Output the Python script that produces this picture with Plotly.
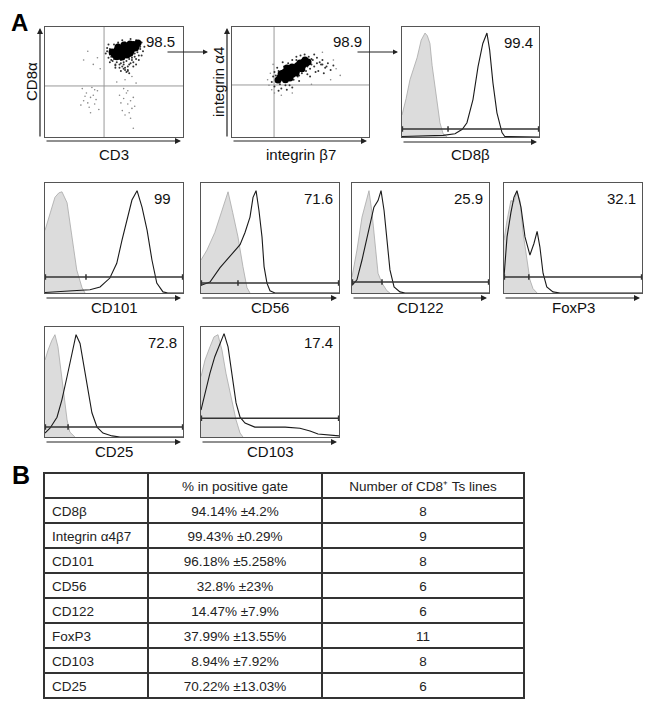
import plotly.graph_objects as go

# The page has an 8px body margin, so the figure is 8px smaller and coordinates are shifted.
OFF = 8
W, H = 651 - OFF, 708 - OFF
FONT = "Liberation Sans, Arial, sans-serif"

# ---------------- data ----------------
# dot plot 1 (CD3 vs CD8a), axis units 0-100
dp1_core_x = [48.6, 52.2, 55.8, 59.4, 63.0, 65.9, 50.7, 54.3, 58.0, 61.6, 65.2, 55.8, 59.4, 52.9, 57.2, 61.6, 67.4,
              50, 53, 56, 60, 63, 57, 60, 64, 54, 58, 62, 66, 52, 56, 61]
dp1_core_y = [77.3, 79.1, 80.0, 81.8, 82.7, 83.6, 74.5, 75.5, 77.3, 79.1, 80.9, 72.7, 74.5, 81.8, 83.6, 84.5, 85.5,
              76, 77, 78, 79, 80, 82, 83, 84, 80, 75, 77, 82, 73, 74, 76]
dp1_halo_x = [44, 46, 47, 49, 50, 51, 53, 54, 55, 56, 57, 58, 59, 60, 61, 62, 63, 64, 65, 66, 67, 68, 69, 70, 71,
              45, 48, 52, 56, 60, 64, 68, 50, 54, 58, 62, 66, 47, 53, 59, 63, 57, 61, 55, 51, 70, 72, 66, 46, 49,
              45, 47, 52, 55, 58, 61, 63, 65, 67, 69, 48, 51, 57, 60, 62]
dp1_halo_y = [76, 72, 80, 69, 84, 66, 86, 63, 70, 88, 66, 61, 69, 64, 71, 89, 74, 68, 76, 71, 79, 74, 82, 86, 78,
              81, 73, 68, 64, 60, 64, 70, 71, 66, 86, 67, 88, 68, 84, 59, 72, 62, 58, 60, 63, 74, 82, 66, 84, 79,
              78, 75, 71, 67, 63, 66, 70, 73, 77, 80, 70, 65, 68, 61, 75]
dp1_out_x = [30, 33, 36, 28, 38, 32, 35, 27, 39, 31, 34, 29, 37, 26, 33, 36,
             54, 57, 60, 63, 56, 59, 62, 65, 58, 61, 55, 64, 60, 57, 62, 64,
             35, 38, 31, 40, 28, 58, 63, 66, 52]
dp1_out_y = [40, 36, 30, 33, 42, 27, 38, 44, 25, 31, 45, 37, 34, 29, 22, 43,
             38, 35, 30, 26, 24, 40, 33, 28, 20, 22, 31, 36, 42, 44, 17, 8,
             66, 72, 78, 62, 70, 52, 55, 49, 50]

# dot plot 2 (integrin b7 vs integrin a4)
dp2_core_x = [33.6, 37.2, 40.9, 44.5, 48.2, 51.8, 55.5, 38.7, 43.8, 49.6, 35.8, 42.3, 46.7, 53.3, 40.1,
              35, 39, 42, 46, 50, 54, 37, 41, 45, 48, 52, 44, 47, 51, 39]
dp2_core_y = [51.8, 54.5, 57.3, 60.0, 62.7, 65.5, 68.2, 59.1, 63.6, 67.3, 57.3, 53.6, 58.2, 70.0, 62.7,
              54, 56, 59, 61, 64, 67, 58, 61, 63, 65, 68, 57, 60, 62, 52]
dp2_halo_x = [29, 31, 32, 34, 35, 36, 38, 39, 41, 42, 44, 45, 47, 48, 50, 51, 53, 54, 56, 57, 59, 60, 62, 63, 65,
              66, 68, 70, 72, 74, 30, 33, 37, 40, 43, 46, 49, 52, 55, 58, 61, 64, 67, 36, 44, 50, 57, 34, 47, 60,
              31, 39, 45, 52, 58, 62, 66, 69, 55, 49]
dp2_halo_y = [50, 46, 56, 60, 48, 44, 64, 50, 67, 47, 70, 52, 73, 55, 74, 58, 75, 60, 73, 62, 70, 64, 72, 60, 66,
              70, 63, 67, 61, 65, 55, 63, 68, 43, 57, 66, 51, 71, 57, 66, 59, 68, 58, 53, 45, 61, 55, 42, 70, 75,
              59, 47, 55, 60, 71, 67, 66, 64, 64, 56]
dp2_out_x = [27, 29, 26, 31, 28, 76, 79, 72, 74, 44, 36, 30, 66, 58]
dp2_out_y = [47, 43, 52, 40, 58, 62, 56, 52, 70, 40, 38, 66, 77, 48]

# histogram panels
hist_names = ["CD8β", "CD101", "CD56", "CD122", "FoxP3", "CD25", "CD103"]
hist_values = ["99.4", "99", "71.6", "25.9", "32.1", "72.8", "17.4"]

cd8b_grey_x = [0, 3, 5.8, 8.5, 11, 14, 16.8, 18.5, 20.4, 22, 24, 26, 27.7, 30, 33]
cd8b_grey_y = [20, 35, 52, 62, 72, 88, 94.5, 92, 85, 65, 45, 27, 13, 3, 0]
cd8b_black_x = [0, 20, 30, 38.7, 44, 47.4, 51.8, 55.5, 59, 62, 64, 66.4, 69.3, 73, 75, 100]
cd8b_black_y = [0.5, 0.8, 1.5, 3, 7, 13, 34, 64, 85, 94.5, 79, 49, 22, 4, 0.5, 0]

cd101_grey_x = [0, 3.6, 7.2, 10, 12.3, 16, 19.6, 23, 26.8, 29]
cd101_grey_y = [57, 73, 87, 91, 92, 82, 51, 21, 5, 0]
cd101_black_x = [0, 10, 20, 32.6, 39.9, 47, 52, 55.8, 59.4, 63, 66.7, 70.3, 74, 77.5, 81, 85.5, 89, 100]
cd101_black_y = [0.5, 1, 2, 3, 5.5, 13.6, 27, 48, 66, 84.5, 93, 78, 57, 30, 9, 1, 0, 0]

cd56_grey_x = [0, 4.3, 10, 15.2, 19.6, 23, 26.8, 30.4, 33.3, 35.5]
cd56_grey_y = [30, 39, 55, 75, 92, 73, 51, 24, 5, 0]
cd56_black_x = [0, 6.5, 13.8, 21, 28.3, 31.9, 35.5, 37.7, 39.9, 42, 44.2, 45.7, 47.8, 50, 53.6, 100]
cd56_black_y = [7, 10, 23, 33, 44, 55, 69, 87, 93, 75, 51, 24, 9, 2, 0, 0]

cd122_grey_x = [0, 3.6, 7.3, 10.2, 12.4, 14.6, 16.8, 19, 21.9, 25.5, 27.7]
cd122_grey_y = [14.5, 39, 69, 84, 93, 73, 48, 18, 9, 2, 0]
cd122_black_x = [0, 3.6, 7.3, 11.7, 16, 19, 21.2, 23.4, 25.5, 27.7, 30.7, 35, 38.7, 100]
cd122_black_y = [7, 12, 30, 55, 78, 84, 93, 75, 48, 21, 5.5, 1, 0, 0]

foxp3_grey_x = [0, 2.2, 5, 7.2, 9.4, 11.6, 13.8, 16.7, 18.8, 21, 24]
foxp3_grey_y = [48, 66, 84, 83, 92, 84, 55, 30, 12, 4, 0]
foxp3_black_x = [0, 2.2, 5, 7.2, 9.4, 12.3, 15.2, 18.8, 21.7, 24, 26, 28.3, 31, 35.5, 40.6, 100]
foxp3_black_y = [14.5, 51, 73, 87, 93, 78, 51, 34.5, 45, 56, 42, 18, 5.5, 1, 0, 0]

cd25_grey_x = [0, 2.2, 5, 7.2, 9.4, 11.6, 13.8, 16, 18, 21.7]
cd25_grey_y = [70, 79, 88, 93, 82, 58, 34, 15.5, 4.5, 0]
cd25_black_x = [0, 3.6, 8.7, 12.3, 16, 19.6, 22.5, 25.4, 28.3, 31.2, 34, 37.7, 42, 48.6, 54.3, 100]
cd25_black_y = [3.6, 8, 18, 34, 55, 76, 93, 85, 64, 40, 22, 9, 3.6, 1, 0, 0]

cd103_grey_x = [0, 2.9, 6.5, 9.4, 12.3, 15.2, 18.1, 21.7, 25.4, 28.3, 30.4]
cd103_grey_y = [55, 70, 82, 91, 93, 79, 58, 36, 15.5, 3.6, 0]
cd103_black_x = [0, 2.9, 6.5, 10, 13.8, 16.7, 19.6, 22.5, 25.4, 28.3, 31.9, 39, 50, 61, 71.7, 79, 84.8, 93.5, 100]
cd103_black_y = [24.5, 40, 58, 73, 85, 94, 82, 55, 31, 18, 12.7, 9, 9, 9, 8, 5.5, 2.7, 1.8, 1]

gate_levels = [7.3, 14.5, 9, 10, 14.5, 9, 17]
gate_marks = [33.6, 29.7, 26.8, 21.9, 18, 16.7, None]

# table
tbl_markers = ["CD8β", "Integrin α4β7", "CD101", "CD56", "CD122", "FoxP3", "CD103", "CD25"]
tbl_percent = ["94.14% ±4.2%", "99.43% ±0.29%", "96.18% ±5.258%", "32.8% ±23%",
               "14.47% ±7.9%", "37.99% ±13.55%", "8.94% ±7.92%", "70.22% ±13.03%"]
tbl_lines = ["8", "9", "8", "6", "6", "11", "8", "6"]
tbl_header = ["", "% in positive gate", "Number of CD8⁺ Ts lines"]

# ---------------- layout helpers ----------------
def px(x):
    return (x - OFF) / W

def py(y):
    return 1 - (y - OFF) / H

dot_boxes = [(45, 27, 183, 137), (232, 27, 369, 137)]
hist_boxes = [(402, 27, 539, 137),
              (45, 183, 183, 293), (201, 183, 339, 293), (352, 183, 489, 293), (504, 183, 642, 293),
              (45, 327, 183, 437), (201, 327, 339, 437)]
hist_data = [
    (cd8b_grey_x, cd8b_grey_y, cd8b_black_x, cd8b_black_y),
    (cd101_grey_x, cd101_grey_y, cd101_black_x, cd101_black_y),
    (cd56_grey_x, cd56_grey_y, cd56_black_x, cd56_black_y),
    (cd122_grey_x, cd122_grey_y, cd122_black_x, cd122_black_y),
    (foxp3_grey_x, foxp3_grey_y, foxp3_black_x, foxp3_black_y),
    (cd25_grey_x, cd25_grey_y, cd25_black_x, cd25_black_y),
    (cd103_grey_x, cd103_grey_y, cd103_black_x, cd103_black_y),
]

fig = go.Figure()
layout = dict()
annotations = []
shapes = []

def axis_cfg(dom):
    return dict(domain=dom, range=[0, 100], showticklabels=False, ticks="", showgrid=False,
                zeroline=False, showline=True, mirror=True, linecolor="#555", linewidth=1,
                fixedrange=True)

def add_axes(i, box):
    l, t, r, b = box
    xa = "xaxis" if i == 1 else f"xaxis{i}"
    ya = "yaxis" if i == 1 else f"yaxis{i}"
    layout[xa] = axis_cfg([px(l), px(r)])
    layout[ya] = axis_cfg([py(b), py(t)])
    xr = "x" if i == 1 else f"x{i}"
    yr = "y" if i == 1 else f"y{i}"
    layout[xa]["anchor"] = yr
    layout[ya]["anchor"] = xr
    return xr, yr

def x_arrow(box, ybelow):
    l, t, r, b = box
    annotations.append(dict(x=px(r - 2), y=py(ybelow), xref="paper", yref="paper", text="",
                            showarrow=True, ax=-(r - 2 - l), ay=0, axref="pixel", ayref="pixel",
                            arrowhead=2, arrowsize=1, arrowwidth=1.2, arrowcolor="#222"))

def label(text, x, y, size=15, angle=0):
    annotations.append(dict(x=px(x), y=py(y), xref="paper", yref="paper", text=text, showarrow=False,
                            textangle=angle, font=dict(family=FONT, size=size, color="#111"),
                            xanchor="center", yanchor="middle"))

# ---------------- dot plots ----------------
dot_sets = [
    (dp1_core_x, dp1_core_y, dp1_halo_x, dp1_halo_y, dp1_out_x, dp1_out_y, 42.8, 46.4, "98.5", "CD3", "CD8α"),
    (dp2_core_x, dp2_core_y, dp2_halo_x, dp2_halo_y, dp2_out_x, dp2_out_y, 30.7, 47.3, "98.9", "integrin β7", "integrin α4"),
]
axis_i = 1
for box, ds in zip(dot_boxes, dot_sets):
    cx, cy, hx, hy, ox, oy, qv, qh, val, xl, yl = ds
    xr, yr = add_axes(axis_i, box)
    fig.add_trace(go.Scatter(x=[qv, qv, None, 0, 100], y=[0, 100, None, qh, qh], mode="lines",
                             line=dict(color="#999", width=1), xaxis=xr, yaxis=yr, hoverinfo="skip"))
    fig.add_trace(go.Scatter(x=ox, y=oy, mode="markers", marker=dict(size=1.6, color="#888"),
                             xaxis=xr, yaxis=yr, hoverinfo="skip"))
    fig.add_trace(go.Scatter(x=hx, y=hy, mode="markers", marker=dict(size=2, color="#333"),
                             xaxis=xr, yaxis=yr, hoverinfo="skip"))
    fig.add_trace(go.Scatter(x=cx, y=cy, mode="markers", marker=dict(size=7, color="#000"),
                             xaxis=xr, yaxis=yr, hoverinfo="skip"))
    annotations.append(dict(x=84, y=87, xref=xr, yref=yr, text=val, showarrow=False,
                            font=dict(family=FONT, size=15, color="#111")))
    l, t, r, b = box
    x_arrow(box, b + 4)
    annotations.append(dict(x=px(l - 5), y=py(t + 1), xref="paper", yref="paper", text="",
                            showarrow=True, ax=0, ay=(b - t), axref="pixel", ayref="pixel",
                            arrowhead=2, arrowsize=1, arrowwidth=1.2, arrowcolor="#222"))
    label(xl, (l + r) / 2, b + 17)
    label(yl, l - 14, (t + b) / 2, angle=-90)
    axis_i += 1

for tail, head in [(166, 208), (356, 398)]:
    annotations.append(dict(x=px(head), y=py(52), xref="paper", yref="paper", text="",
                            showarrow=True, ax=-(head - tail), ay=0, axref="pixel", ayref="pixel",
                            arrowhead=2, arrowsize=1, arrowwidth=1, arrowcolor="#222"))

# ---------------- histograms ----------------
for k, (box, hd) in enumerate(zip(hist_boxes, hist_data)):
    gx, gy, bx, by = hd
    xr, yr = add_axes(axis_i, box)
    fig.add_trace(go.Scatter(x=gx, y=gy, mode="lines", fill="tozeroy", fillcolor="#dcdcdc",
                             line=dict(color="#a8a8a8", width=0.8), xaxis=xr, yaxis=yr, hoverinfo="skip"))
    fig.add_trace(go.Scatter(x=bx, y=by, mode="lines", line=dict(color="#1a1a1a", width=1.1),
                             xaxis=xr, yaxis=yr, hoverinfo="skip"))
    g = gate_levels[k]
    gxs = [0, 100, None, 0.3, 0.3, None, 99.7, 99.7]
    gys = [g, g, None, g - 2.5, g + 2.5, None, g - 2.5, g + 2.5]
    if gate_marks[k] is not None:
        gxs += [None, gate_marks[k], gate_marks[k]]
        gys += [None, g - 2.5, g + 2.5]
    fig.add_trace(go.Scatter(x=gxs, y=gys, mode="lines", line=dict(color="#333", width=1.5),
                             xaxis=xr, yaxis=yr, hoverinfo="skip"))
    annotations.append(dict(x=85, y=86, xref=xr, yref=yr, text=hist_values[k], showarrow=False,
                            font=dict(family=FONT, size=15, color="#111")))
    l, t, r, b = box
    x_arrow(box, b + 5)
    label(hist_names[k], (l + r) / 2, b + (17 if k == 0 else 14))
    axis_i += 1

# panel letters
annotations.append(dict(x=px(10), y=1.0, xref="paper", yref="paper", text="<b>A</b>", showarrow=False,
                        xanchor="left", yanchor="top", borderpad=0,
                        font=dict(family=FONT, size=24, color="#000")))
annotations.append(dict(x=px(10), y=py(475), xref="paper", yref="paper", text="<b>B</b>", showarrow=False,
                        xanchor="left", yanchor="middle", font=dict(family=FONT, size=25, color="#000")))

# ---------------- table ----------------
fig.add_trace(go.Table(
    domain=dict(x=[px(44), px(524)], y=[py(700), py(473)]),
    columnwidth=[104, 174, 202],
    header=dict(values=tbl_header, height=25, align=["left", "center", "center"],
                line=dict(color="#333", width=1.5), fill=dict(color="white"),
                font=dict(family=FONT, size=13.5, color="#222")),
    cells=dict(values=[tbl_markers, tbl_percent, tbl_lines], height=25,
               align=["left", "center", "center"],
               line=dict(color="#333", width=1.5), fill=dict(color="white"),
               font=dict(family=FONT, size=13.5, color="#222")),
))
shapes.append(dict(type="rect", xref="paper", yref="paper", x0=px(44), x1=px(524), y0=py(698), y1=py(473),
                   line=dict(color="#333", width=2)))

fig.update_layout(width=W, height=H, margin=dict(l=0, r=0, t=0, b=0), showlegend=False,
                  paper_bgcolor="white", plot_bgcolor="white", annotations=annotations, shapes=shapes,
                  **layout)
fig.write_html("out.html")
